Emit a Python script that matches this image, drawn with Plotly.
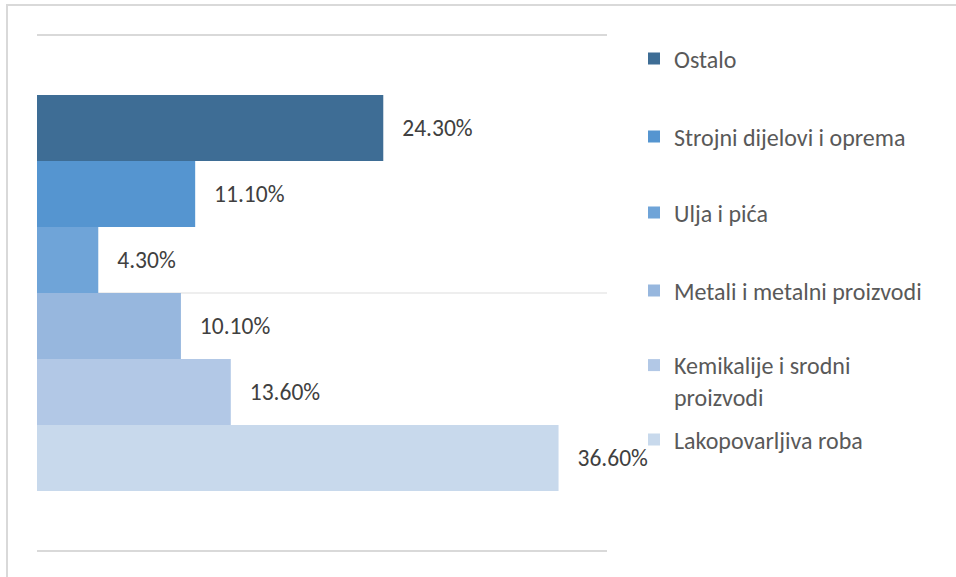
import plotly.graph_objects as go

# ---- data ----
categories = ["Ostalo", "Strojni dijelovi i oprema", "Ulja i pića",
              "Metali i metalni proizvodi", "Kemikalije i srodni proizvodi",
              "Lakopovarljiva roba"]
legend_labels = ["Ostalo", "Strojni dijelovi i oprema", "Ulja i pića",
                 "Metali i metalni proizvodi", "Kemikalije i srodni<br>proizvodi",
                 "Lakopovarljiva roba"]
values = [0.243, 0.111, 0.043, 0.101, 0.136, 0.366]
colors = ["#3E6D95", "#5595D0", "#6FA4D8", "#97B7DE", "#B2C8E6", "#C8D9EC"]
group_label = ["Udio"]

# ---- layout constants ----
W, H = 956, 577
L, R, T, B = 37, 607, 36, 550
FONT = "Carlito, Lato, sans-serif"
legend_centers_px = [59, 137, 213, 291, 381, 440]
legend_left_px = 634

fig = go.Figure()
for i, (name, lab, v, c) in enumerate(zip(categories, legend_labels, values, colors)):
    fig.add_trace(go.Bar(
        x=[v], y=group_label, orientation="h", name=lab,
        marker=dict(color=c, line=dict(width=0)),
        text=[v], texttemplate="\u00a0\u00a0\u00a0%{x:.2%}",
        textposition="outside", constraintext="none", cliponaxis=False,
        textfont=dict(family=FONT, size=23.5, color="#404040"),
        legend="legend" if i == 0 else f"legend{i+1}",
        hovertemplate=name + ": %{x:.1%}<extra></extra>",
    ))

legends = {}
for i, cy in enumerate(legend_centers_px):
    key = "legend" if i == 0 else f"legend{i+1}"
    legends[key] = dict(
        x=(legend_left_px - L) / (R - L), xanchor="left",
        y=(B - cy) / (B - T), yanchor="middle",
        bgcolor="rgba(0,0,0,0)", valign="top",
        font=dict(family=FONT, size=24, color="#595959"),
    )

fig.update_layout(
    width=W, height=H,
    margin=dict(l=L, r=W - R, t=T, b=H - B, pad=0),
    paper_bgcolor="white", plot_bgcolor="white",
    barmode="group", bargap=1 - 396 / 514, bargroupgap=0,
    showlegend=True,
    xaxis=dict(range=[0, 0.40], showgrid=False, zeroline=False,
               showticklabels=False, ticks="",
               showline=True, mirror=True, linecolor="#D9D9D9", linewidth=2),
    yaxis=dict(type="category", autorange="reversed", showgrid=True,
               gridcolor="#EEEEEE", gridwidth=2, showticklabels=False,
               ticks="", showline=False, zeroline=False),
    shapes=[dict(type="rect", xref="paper", yref="paper",
                 x0=(7 - L) / (R - L), x1=(W + 5 - L) / (R - L),
                 y0=(B - (H + 5)) / (B - T), y1=(B - 5) / (B - T),
                 line=dict(color="#D9D9D9", width=2), fillcolor="rgba(0,0,0,0)",
                 layer="below")],
    **legends,
)

fig.write_html("out.html",
               config={"displayModeBar": False},
               post_script="document.body.style.margin='0';"
                           "document.body.style.overflow='hidden';")
